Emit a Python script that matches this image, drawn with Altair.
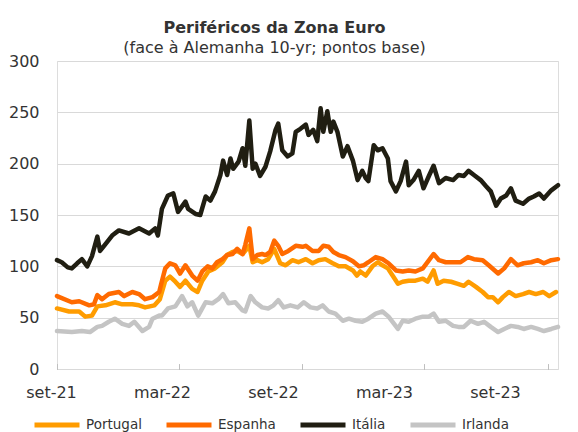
import altair as alt
import pandas as pd

# Periféricos da Zona Euro: spread face à Alemanha 10 anos (pontos base)
inicio = pd.Timestamp("2021-09-01")

paises = ["Portugal", "Espanha", "Itália", "Irlanda"]
cores = ["#FF9C00", "#FF6A00", "#201E12", "#C4C4C4"]

# dias desde 2021-09-01
dias_portugal = [0, 18, 33, 42, 52, 60, 72, 86, 97, 112, 122, 131, 145, 153, 161, 168, 176, 183, 191,
                 201, 209, 216, 225, 235, 246, 253, 261, 268, 276, 286, 291, 298, 305, 314, 323, 332,
                 340, 350, 359, 370, 380, 389, 399, 410, 419, 429, 440, 446, 451, 459, 469, 477, 484,
                 492, 499, 507, 514, 523, 533, 544, 551, 560, 566, 575, 586, 596, 605, 612, 623, 633,
                 641, 648, 656, 663, 672, 682, 693, 702, 712, 723, 732, 742]
portugal = [59, 56, 56, 51, 52, 61, 62, 65, 63, 63, 62, 60, 62, 68, 86, 90, 85, 80, 86,
            78, 75, 86, 95, 98, 104, 111, 114, 115, 112, 120, 104, 106, 104, 107, 117, 103,
            101, 106, 104, 107, 103, 106, 107, 103, 100, 100, 96, 91, 95, 91, 100, 104, 101,
            98, 91, 83, 85, 86, 86, 88, 85, 96, 83, 86, 85, 83, 81, 85, 80, 75,
            70, 70, 65, 70, 75, 71, 73, 75, 73, 75, 71, 75]

dias_espanha = [0, 22, 33, 48, 55, 60, 67, 77, 92, 100, 112, 122, 131, 142, 152, 155, 161, 168, 176,
                183, 191, 201, 209, 216, 224, 231, 238, 246, 253, 261, 268, 276, 280, 286, 291, 298,
                305, 310, 317, 323, 329, 335, 344, 355, 365, 370, 380, 389, 396, 404, 411, 419, 429,
                440, 449, 456, 463, 474, 484, 493, 504, 514, 523, 533, 544, 551, 560, 568, 578, 589,
                600, 611, 620, 633, 642, 656, 665, 675, 685, 694, 705, 715, 724, 735, 745]
espanha = [71, 65, 66, 62, 63, 72, 68, 73, 75, 71, 75, 73, 68, 70, 75, 83, 98, 103, 101,
           93, 101, 91, 86, 95, 100, 98, 104, 107, 111, 112, 117, 112, 121, 137, 107, 111,
           112, 111, 114, 125, 120, 112, 115, 120, 119, 120, 115, 115, 120, 119, 114, 111, 109,
           105, 100, 101, 104, 109, 107, 103, 96, 95, 96, 95, 98, 104, 112, 106, 104, 104,
           104, 109, 107, 106, 101, 93, 98, 107, 101, 103, 104, 106, 103, 106, 107]

dias_italia = [0, 7, 16, 22, 30, 37, 45, 52, 60, 64, 70, 82, 92, 107, 122, 137, 146, 150, 156, 165,
               173, 180, 191, 195, 206, 213, 221, 228, 235, 243, 247, 253, 258, 262, 270, 276, 280,
               286, 291, 295, 302, 310, 317, 325, 329, 335, 343, 350, 355, 362, 370, 374, 381, 387,
               392, 396, 402, 407, 411, 417, 425, 432, 440, 447, 454, 459, 463, 471, 477, 484, 492,
               496, 504, 511, 519, 523, 530, 538, 545, 553, 560, 568, 578, 589, 597, 605, 612, 620,
               630, 638, 645, 653, 660, 668, 675, 682, 693, 702, 709, 717, 724, 735, 745]
italia = [106, 104, 99, 98, 103, 107, 100, 110, 129, 115, 120, 130, 135, 132, 137, 132, 137, 130, 156, 169,
          171, 153, 163, 156, 151, 150, 168, 164, 173, 189, 203, 189, 205, 195, 202, 215, 198,
          242, 195, 200, 188, 197, 212, 233, 239, 213, 207, 210, 231, 234, 238, 228, 233, 222,
          254, 231, 251, 231, 241, 231, 207, 217, 203, 184, 193, 186, 183, 218, 213, 215, 205,
          183, 173, 183, 202, 179, 184, 193, 176, 188, 198, 181, 186, 184, 189, 188, 193, 189,
          184, 178, 173, 159, 166, 169, 176, 164, 161, 166, 168, 171, 166, 174, 179]

dias_irlanda = [0, 22, 37, 49, 60, 67, 77, 86, 97, 107, 115, 127, 137, 142, 152, 156, 165, 176, 186,
                194, 201, 210, 221, 231, 240, 247, 255, 265, 276, 280, 288, 295, 305, 314, 322, 329,
                337, 347, 358, 367, 377, 387, 395, 404, 414, 425, 434, 444, 454, 463, 474, 484, 493,
                507, 514, 523, 533, 544, 553, 560, 568, 578, 589, 597, 605, 615, 626, 635, 645, 656,
                665, 675, 685, 694, 705, 715, 724, 735, 745]
irlanda = [37, 36, 37, 36, 41, 42, 46, 49, 44, 42, 46, 37, 41, 49, 52, 52, 59, 61, 71,
           61, 65, 52, 65, 64, 68, 73, 64, 65, 57, 56, 71, 65, 60, 59, 62, 67,
           60, 62, 60, 65, 60, 59, 62, 56, 54, 47, 49, 47, 46, 49, 54, 56, 51,
           39, 47, 46, 49, 51, 51, 54, 46, 47, 42, 41, 41, 47, 44, 46, 41, 36,
           39, 42, 41, 39, 41, 39, 37, 39, 41]

rotulos_x = ["set-21", "mar-22", "set-22", "mar-23", "set-23"]
ticks_x = ["2021-09-01", "2022-03-01", "2022-09-01", "2023-03-01", "2023-09-01"]
ticks_y = [0, 50, 100, 150, 200, 250, 300]

series = {"Portugal": (dias_portugal, portugal), "Espanha": (dias_espanha, espanha),
          "Itália": (dias_italia, italia), "Irlanda": (dias_irlanda, irlanda)}
frames = []
for nome, (dias, vals) in series.items():
    frames.append(pd.DataFrame({
        "data": (inicio + pd.to_timedelta(dias, unit="D")).strftime("%Y-%m-%d"),
        "valor": vals, "pais": nome}))
df = pd.concat(frames, ignore_index=True)

FONT = "DejaVu Sans"


def dt(s):
    t = pd.Timestamp(s)
    return alt.DateTime(year=t.year, month=t.month, date=t.day)


x_enc = alt.X("data:T", title=None,
              scale=alt.Scale(domain=[dt("2021-09-01"), dt("2023-09-16")]),
              axis=alt.Axis(values=[dt(t) for t in ticks_x], labels=False, domain=False,
                            grid=False, ticks=True, tickSize=5, tickColor="#BFBFBF",
                            offset=-5, orient="bottom"))
y_enc = alt.Y("valor:Q", title=None,
              scale=alt.Scale(domain=[0, 300], nice=False, zero=True),
              axis=alt.Axis(values=ticks_y, domain=False, ticks=False, grid=True,
                            gridColor="#D9D9D9", labelFontSize=16, labelFont=FONT,
                            labelColor="#333333", labelPadding=18))
color_enc = alt.Color("pais:N", title=None,
                      scale=alt.Scale(domain=paises, range=cores),
                      legend=alt.Legend(orient="none", direction="horizontal",
                                        legendX=-25, legendY=339, symbolType="stroke",
                                        symbolSize=2025, symbolStrokeWidth=5,
                                        labelFontSize=13.5, labelFont=FONT,
                                        labelColor="#333333", columnPadding=14,
                                        labelOffset=4, padding=0))

base = alt.Chart(df)
layers = []
for nome in paises:
    layers.append(
        base.transform_filter(alt.datum.pais == nome)
        .mark_line(strokeWidth=4.5, strokeJoin="round", strokeCap="round")
        .encode(x=x_enc, y=y_enc, color=color_enc)
    )

rot = alt.Chart(pd.DataFrame({"rotulo": rotulos_x})).mark_point(opacity=0).encode(
    x=alt.X("rotulo:N", sort=rotulos_x, title=None,
            scale=alt.Scale(type="point", range=[-6, 438], padding=0),
            axis=alt.Axis(orient="bottom", domain=False, ticks=False, grid=False,
                          labelAngle=0, labelFontSize=16, labelFont=FONT,
                          labelColor="#333333", labelPadding=15, labelOverlap=False))
)

chart = alt.layer(*layers, rot).resolve_scale(x="independent").properties(
    width=501, height=308,
    padding={"left": 0, "top": 12, "right": 5, "bottom": 0},
    title=alt.TitleParams(text="Periféricos da Zona Euro",
                          subtitle="(face à Alemanha 10-yr; pontos base)",
                          font=FONT, fontSize=16, fontWeight="bold", color="#333333",
                          subtitleFont=FONT, subtitleFontSize=16, subtitleColor="#333333",
                          anchor="middle", frame="group", dx=-33, offset=-3,
                          subtitlePadding=4)
).configure_view(stroke=None).configure(background="white")

chart.save("out.html", embed_options={"renderer": "svg", "actions": False})
